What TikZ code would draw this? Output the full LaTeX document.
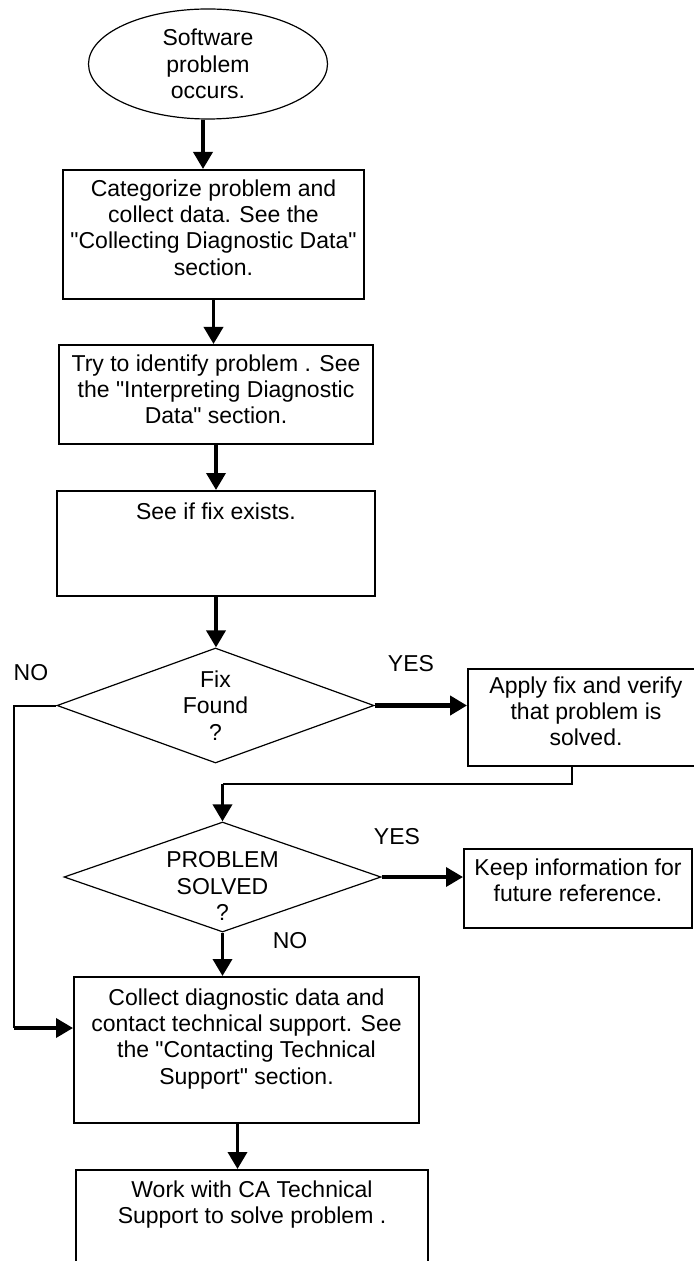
\documentclass[tikz,border=0pt]{standalone}
\usepackage{fontspec}
\setmainfont{Liberation Sans}
\usetikzlibrary{shapes.geometric,arrows.meta,positioning}
\newcommand{\dq}{\textquotedbl}
\begin{document}
\begin{tikzpicture}[
		x=0.5pt, y=-0.5pt,
		font=\fontsize{11.5}{13.2}\selectfont,
		startnode/.style={ellipse, draw, line width=0.6pt, inner sep=0pt, align=center, minimum width=119.5pt, minimum height=55pt},
		boxnode/.style={draw, line width=1pt, inner sep=0pt},
		txt/.style={align=center, inner sep=0pt},
		decision/.style={diamond, draw, line width=0.6pt, inner sep=0pt, aspect=2.8, align=center, minimum width=158.5pt},
		arr/.style={line width=1.8pt, -{Triangle[width=9.5pt,length=8.5pt]}},
		thinline/.style={line width=1pt}
	]
	\useasboundingbox (0,0) rectangle (694,1261);
	\node[startnode] (start) at (208,64) {Software\\problem\\occurs.};
	\node[boxnode, minimum width=150.5pt, minimum height=64.5pt] (collect) at (213.5,234.5) {};
	\node[txt, below=5pt of collect.north] (collect-t) {Categorize problem and\\collect data. See the\\\dq Collecting Diagnostic Data\dq\\section.};
	\node[boxnode, minimum width=157pt, minimum height=49.5pt] (identify) at (216,394.5) {};
	\node[txt, below=5pt of identify.north] (identify-t) {Try to identify problem . See\\the \dq Interpreting Diagnostic\\Data\dq{} section.};
	\node[boxnode, minimum width=159pt, minimum height=52.5pt] (check) at (216,543.5) {};
	\node[txt, below=6pt of check.north] (check-t) {See if fix exists.};
	\node[decision, minimum height=57.5pt] (fix) at (215.5,705.5) {Fix\\Found\\?};
	\node[boxnode, minimum width=118pt, minimum height=48.5pt] (apply) at (586,717.5) {};
	\node[txt, below=4pt of apply.north] (apply-t) {Apply fix and verify\\that problem is\\solved.};
	\node[decision, minimum height=55pt] (solved) at (222.5,877) {};
	\node[txt] (solved-t) at (222.5,886) {PROBLEM\\SOLVED\\?};
	\node[boxnode, minimum width=114pt, minimum height=39.5pt] (keep) at (578,888.5) {};
	\node[txt, below=5pt of keep.north] (keep-t) {Keep information for\\future reference.};
	\node[boxnode, minimum width=172.5pt, minimum height=73pt] (support) at (246.5,1050) {};
	\node[txt, below=6pt of support.north] (support-t) {Collect diagnostic data and\\contact technical support. See\\the \dq Contacting Technical\\Support\dq{} section.};
	\node[boxnode, minimum width=176pt, minimum height=60pt] (work) at (252,1230) {};
	\node[txt, below=5.5pt of work.north] (work-t) {Work with CA Technical\\Support to solve problem .};
	\node (no-fix) at (31,673) {NO};
	\node (yes-fix) at (411,664) {YES};
	\node (yes-solved) at (397,837) {YES};
	\node (no-solved) at (290,941) {NO};
	\coordinate (turn) at (572,784);
	\coordinate (bend) at (14,1028);
	\draw[arr] ([xshift=-2.5pt]start.south) -- ([xshift=-2.5pt]start.south |- collect.north);
	\draw[arr] (collect.south) -- (collect.south |- identify.north);
	\draw[arr] (identify.south) -- (identify.south |- check.north);
	\draw[arr] (check.south) -- (check.south |- fix.north);
	\draw[arr, line width=2.5pt] (fix.east) -- (fix.east -| apply.west);
	\draw[thinline] (apply.south -| turn) |- (solved.north |- turn);
	\draw[arr] (solved.north |- turn) -- (solved.north);
	\draw[arr] (solved.east) -- (solved.east -| keep.west);
	\draw[arr] (solved.south) -- (solved.south |- support.north);
	\draw[thinline] (fix.west) -| (bend);
	\draw[arr] (bend) -- (bend -| support.west);
	\draw[arr] ([xshift=-4.5pt]support.south) -- ([xshift=-4.5pt]support.south |- work.north);
\end{tikzpicture}
\end{document}
